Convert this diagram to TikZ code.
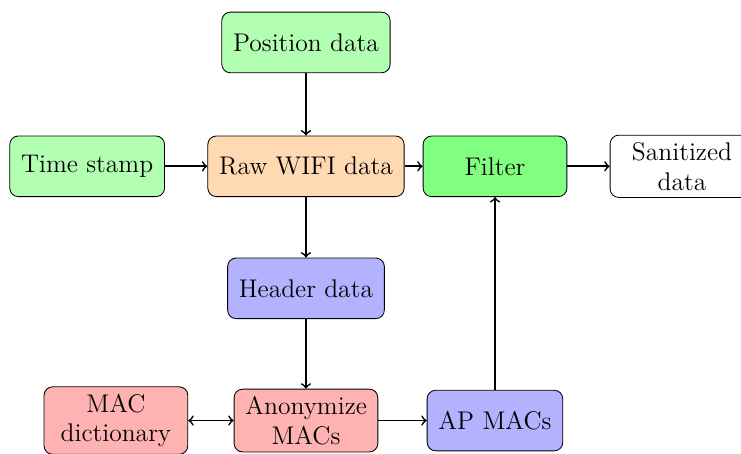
\documentclass[tikz,border=0pt]{standalone}
\usetikzlibrary{positioning}

\begin{document}
\begin{tikzpicture}[
  box/.style={draw,rounded corners=4pt,align=center,font=\large,minimum height=1cm,
    inner xsep=5.3pt},
  wide/.style={box,text width=2cm},
  arr/.style={->,thick}]
  \useasboundingbox (-5.05,-4.74) rectangle (7.18,2.745);
  \node[box,fill=orange!30] (raw) {Raw WIFI data};
  \node[box,fill=green!30,above=1.03cm of raw] (pos) {Position data};
  \node[box,fill=green!30,left=7mm of raw] (time) {Time stamp};
  \node[wide,fill=green!50,right=3mm of raw] (filter) {Filter};
  \node[wide,right=7mm of filter] (clean) {Sanitized\\data};
  \node[box,fill=blue!30,below=1cm of raw] (header) {Header data};
  \node[wide,fill=red!30,below=1.15cm of header] (anon) {Anonymize\\MACs};
  \node[wide,fill=red!30,left=7.5mm of anon] (dict) {MAC\\dictionary};
  \node[box,fill=blue!30,right=8mm of anon] (ap) {AP MACs};
  \draw[arr] (pos) -- (raw);
  \draw[arr] (time) -- (raw);
  \draw[arr] (raw) -- (filter);
  \draw[arr] (filter) -- (clean);
  \draw[arr] (raw) -- (header);
  \draw[arr] (header) -- (anon);
  \draw[arr,<->] (dict) -- (anon);
  \draw[arr] (anon) -- (ap);
  \draw[arr] (ap) -- (filter);
\end{tikzpicture}
\end{document}
